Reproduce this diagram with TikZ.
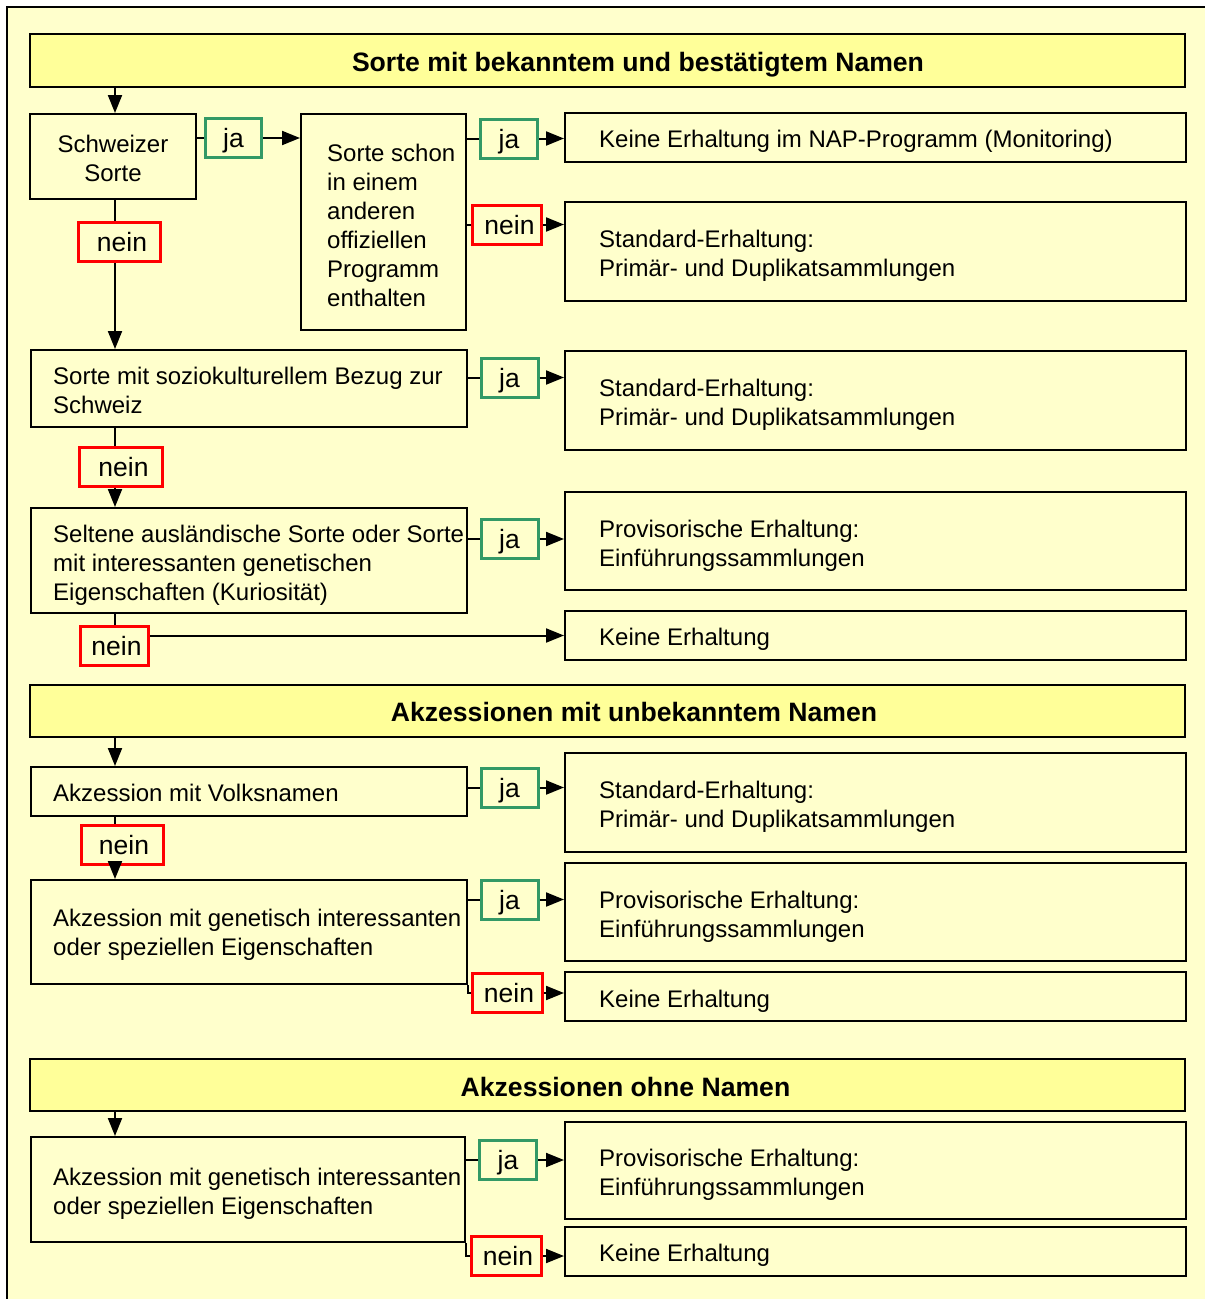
\documentclass[tikz,border=0pt]{standalone}
\usepackage{fontspec}
\setmainfont{Liberation Sans}
\usetikzlibrary{arrows.meta,calc}
\definecolor{bgyellow}{RGB}{255,255,204}
\definecolor{hdyellow}{RGB}{255,255,153}
\definecolor{jagreen}{RGB}{51,153,102}
\definecolor{neinred}{RGB}{255,0,0}
\begin{document}
\begin{tikzpicture}[x=1pt,y=-1pt,
  box/.style={draw=black, line width=2pt, fill=bgyellow, inner sep=0pt},
  hdr/.style={draw=black, line width=2pt, fill=hdyellow, inner sep=0pt, minimum width=1155pt},
  hdrtxt/.style={inner sep=0pt, font=\fontsize{26.6}{30}\selectfont\bfseries},
  txt/.style={align=left, inner sep=0pt, font=\fontsize{24}{29}\selectfont},
  lab/.style={line width=3pt, fill=bgyellow, inner sep=0pt, minimum height=39pt, text height=19.5pt, text depth=0pt, font=\fontsize{26.5}{30}\selectfont},
  jabox/.style={lab, draw=jagreen, minimum width=57pt},
  neinbox/.style={lab, draw=neinred},
  conn/.style={line width=2pt},
  arr/.style={conn, -{Triangle[length=18pt,width=14pt]}}
]
\useasboundingbox (0,0) rectangle (1205,1299);
\fill[white] (0,0) rectangle (1205,1299);
\fill[bgyellow] (7,7) rectangle (1205,1299);
\draw[line width=2pt] (7,1299) -- (7,7) -- (1205,7);
\coordinate (xs) at (115,0);

% headers
\node[hdr, minimum height=53pt] (h1) at (607.5,60.5) {};
\node[hdrtxt] (h1t) at (638,65) {Sorte mit bekanntem und bestätigtem Namen};
\node[hdr, minimum height=52pt] (h2) at (607.5,711) {};
\node[hdrtxt] (h2t) at (634,712) {Akzessionen mit unbekanntem Namen};
\node[hdr, minimum height=52pt] (h3) at (607.5,1085) {};
\node[hdrtxt] (h3t) at (625.5,1087) {Akzessionen ohne Namen};

% left question boxes
\node[box, minimum width=166pt, minimum height=85pt] (q1) at (113,156.5) {};
\node[box, minimum width=165pt, minimum height=216pt] (q2) at (383.5,222) {};
\node[box, minimum width=436pt, minimum height=77pt] (q3) at (249,388.5) {};
\node[box, minimum width=436pt, minimum height=105pt] (q4) at (249,560.5) {};
\node[box, minimum width=436pt, minimum height=49pt] (q5) at (249,791.5) {};
\node[box, minimum width=436pt, minimum height=104pt] (q6) at (249,932) {};
\node[box, minimum width=434pt, minimum height=105pt] (q7) at (248,1189.5) {};

\node[txt, align=center] (q1t) at ([yshift=-2pt]q1.center) {Schweizer\\Sorte};
\node[txt, anchor=west] (q2t) at ([xshift=27pt,yshift=-3pt]q2.west) {Sorte schon\\in einem\\anderen\\offiziellen\\Programm\\enthalten};
\node[txt, anchor=west] (q3t) at ([xshift=23pt,yshift=-2pt]q3.west) {Sorte mit soziokulturellem Bezug zur\\Schweiz};
\node[txt, anchor=west] (q4t) at ([xshift=23pt,yshift=-5pt]q4.west) {Seltene ausländische Sorte oder Sorte\\mit interessanten genetischen\\Eigenschaften (Kuriosität)};
\node[txt, anchor=west] (q5t) at ([xshift=23pt,yshift=-1pt]q5.west) {Akzession mit Volksnamen};
\node[txt, anchor=west] (q6t) at ([xshift=23pt,yshift=-3pt]q6.west) {Akzession mit genetisch interessanten\\oder speziellen Eigenschaften};
\node[txt, anchor=west] (q7t) at ([xshift=23pt,yshift=-4pt]q7.west) {Akzession mit genetisch interessanten\\oder speziellen Eigenschaften};

% right result boxes
\node[box, minimum width=621pt, minimum height=49pt] (r1) at (875.5,137.5) {};
\node[box, minimum width=621pt, minimum height=99pt] (r2) at (875.5,251.5) {};
\node[box, minimum width=621pt, minimum height=99pt] (r3) at (875.5,400.5) {};
\node[box, minimum width=621pt, minimum height=98pt] (r4) at (875.5,541) {};
\node[box, minimum width=621pt, minimum height=49pt] (r5) at (875.5,635.5) {};
\node[box, minimum width=621pt, minimum height=99pt] (r6) at (875.5,802.5) {};
\node[box, minimum width=621pt, minimum height=98pt] (r7) at (875.5,912) {};
\node[box, minimum width=621pt, minimum height=49pt] (r8) at (875.5,996.5) {};
\node[box, minimum width=621pt, minimum height=97pt] (r9) at (875.5,1170.5) {};
\node[box, minimum width=621pt, minimum height=49pt] (r10) at (875.5,1251.5) {};

\node[txt, anchor=west] (r1t) at ([xshift=35pt,yshift=-4pt]r1.west) {Keine Erhaltung im NAP-Programm (Monitoring)};
\node[txt, anchor=west] (r2t) at ([xshift=35pt,yshift=-4pt]r2.west) {Standard-Erhaltung:\\Primär- und Duplikatsammlungen};
\node[txt, anchor=west] (r3t) at ([xshift=35pt,yshift=-4pt]r3.west) {Standard-Erhaltung:\\Primär- und Duplikatsammlungen};
\node[txt, anchor=west] (r4t) at ([xshift=35pt,yshift=-5pt]r4.west) {Provisorische Erhaltung:\\Einführungssammlungen};
\node[txt, anchor=west] (r5t) at ([xshift=35pt,yshift=-4pt]r5.west) {Keine Erhaltung};
\node[txt, anchor=west] (r6t) at ([xshift=35pt,yshift=-4.5pt]r6.west) {Standard-Erhaltung:\\Primär- und Duplikatsammlungen};
\node[txt, anchor=west] (r7t) at ([xshift=35pt,yshift=-5pt]r7.west) {Provisorische Erhaltung:\\Einführungssammlungen};
\node[txt, anchor=west] (r8t) at ([xshift=35pt,yshift=-5pt]r8.west) {Keine Erhaltung};
\node[txt, anchor=west] (r9t) at ([xshift=35pt,yshift=-4pt]r9.west) {Provisorische Erhaltung:\\Einführungssammlungen};
\node[txt, anchor=west] (r10t) at ([xshift=35pt,yshift=-4pt]r10.west) {Keine Erhaltung};

% ja / nein labels
\node[jabox, minimum width=56pt] (ja1) at (233.5,138) {ja};
\node[jabox] (ja2) at (509,138.5) {ja};
\node[neinbox, minimum width=69pt] (n2) at (507,224.5) {\hspace{5pt}nein};
\node[neinbox, minimum width=82pt] (n1) at (119.5,242) {\hspace{5pt}nein};
\node[jabox] (ja3) at (509.5,377.5) {ja};
\node[neinbox, minimum width=83pt] (n3) at (121,466.5) {\hspace{5pt}nein};
\node[jabox] (ja4) at (509.5,539) {ja};
\node[neinbox, minimum width=68pt] (n4) at (114.5,646) {\hspace{4pt}nein};
\node[jabox] (ja5) at (509.5,787.5) {ja};
\node[neinbox, minimum width=82pt] (n5) at (122.5,845) {\hspace{3pt}nein};
\node[jabox] (ja6) at (509.5,899.5) {ja};
\node[neinbox, minimum width=70pt] (n6) at (507.5,993) {\hspace{3pt}nein};
\node[jabox] (ja7) at (508,1160) {ja};
\node[neinbox, minimum width=70pt] (n7) at (506.5,1256) {\hspace{3pt}nein};

% connectors: section 1
\draw[arr] (h1.south -| xs) -- (q1.north -| xs);
\draw[conn] (ja1.west -| q1.east) -- (ja1.west);
\draw[arr] (ja1.east) -- (ja1.east -| q2.west);
\draw[conn] (ja2.west -| q2.east) -- (ja2.west);
\draw[arr] (ja2.east) -- (ja2.east -| r1.west);
\draw[conn] (n2.west -| q2.east) -- (n2.west);
\draw[arr] (n2.east) -- (n2.east -| r2.west);
\draw[conn] (q1.south -| xs) -- (n1.north -| xs);
\draw[arr] (n1.south -| xs) -- (q3.north -| xs);
\draw[conn] (ja3.west -| q3.east) -- (ja3.west);
\draw[arr] (ja3.east) -- (ja3.east -| r3.west);
\draw[conn] (q3.south -| xs) -- (n3.north -| xs);
\draw[arr] (n3.south -| xs) -- (q4.north -| xs);
\draw[conn] (ja4.west -| q4.east) -- (ja4.west);
\draw[arr] (ja4.east) -- (ja4.east -| r4.west);
\draw[conn] (q4.south -| xs) -- (n4.north -| xs);
\draw[arr] (n4.east |- r5.west) -- (r5.west);

% section 2
\draw[arr] (h2.south -| xs) -- (q5.north -| xs);
\draw[conn] (ja5.west -| q5.east) -- (ja5.west);
\draw[arr] (ja5.east) -- (ja5.east -| r6.west);
\draw[conn] (q5.south -| xs) -- (n5.north -| xs);
\draw[arr] (n5.south -| xs) -- (q6.north -| xs);
\draw[conn] (ja6.west -| q6.east) -- (ja6.west);
\draw[arr] (ja6.east) -- (ja6.east -| r7.west);
\draw[conn] (q6.south east) |- (n6.west);
\draw[arr] (n6.east) -- (n6.east -| r8.west);

% section 3
\draw[arr] (h3.south -| xs) -- (q7.north -| xs);
\draw[conn] (ja7.west -| q7.east) -- (ja7.west);
\draw[arr] (ja7.east) -- (ja7.east -| r9.west);
\draw[conn] (q7.south east) |- (n7.west);
\draw[arr] (n7.east) -- (n7.east -| r10.west);
\end{tikzpicture}
\end{document}
